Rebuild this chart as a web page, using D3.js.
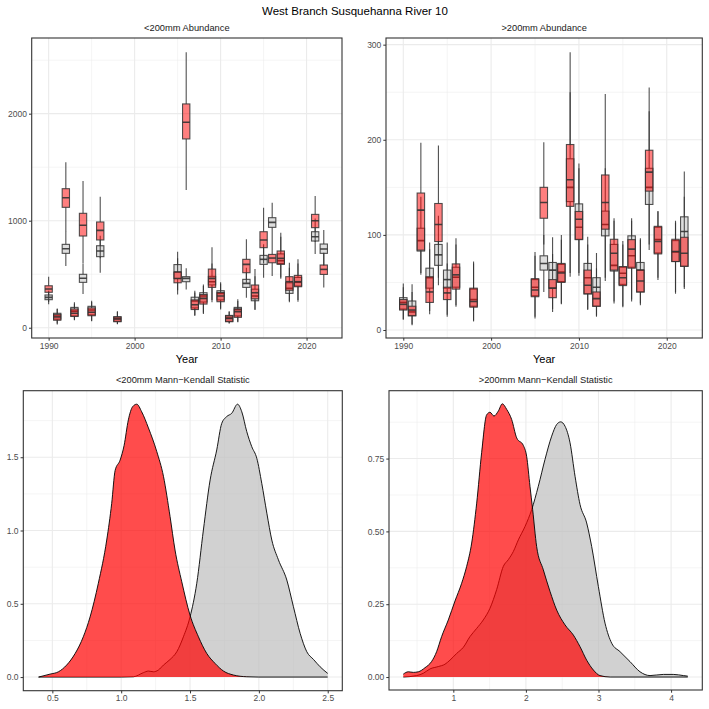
<!DOCTYPE html>
<html><head><meta charset="utf-8">
<script src="https://cdn.jsdelivr.net/npm/d3@7"></script>
<style>body{margin:0;background:#fff}svg{display:block;font-family:"Liberation Sans",Arial,Helvetica,sans-serif}</style>
</head><body><svg id="c" width="709" height="709"></svg>
<script>
// ---------- DATA ----------
const years = [1990,1991,1992,1993,1994,1995,1996,1998,2005,2006,2007,2008,2009,2010,2011,2012,2013,2014,2015,2016,2017,2018,2019,2021,2022];
// [lower whisker, q1, median, q3, upper whisker]
const smallRed = [[240,331,362,392,477],[30,70,100,125,175],[897,1125,1215,1299,1546],[70,105,135,175,225],[602,857,957,1069,1371],[60,112,144,185,240],[650,820,910,988,1224],[32,56,81,100,150],[310,420,460,520,650],[1287,1764,1920,2091,2574],[110,170,215,260,330],[128,221,274,310,390],[237,377,461,548,751],[171,243,296,330,410],[40,56,87,110,150],[50,97,150,175,250],[420,514,592,639,826],[165,270,327,399,548],[600,748,819,897,1121],[483,607,651,685,800],[458,592,648,717,888],[250,350,430,477,607],[243,383,430,489,639],[800,935,1000,1059,1231],[377,498,545,586,700]];
const smallGray = [[219,262,284,306,345],[40,80,110,135,180],[577,695,738,779,900],[75,110,155,190,237],[315,424,462,499,600],[65,120,165,200,252],[514,664,717,766,860],[35,60,85,103,153],[350,460,520,590,710],[358,430,461,477,555],[120,185,250,285,346],[140,240,296,327,405],[260,400,430,480,600],[180,260,321,346,424],[42,60,90,115,153],[55,110,171,190,265],[280,377,414,452,560],[170,252,296,360,480],[467,592,639,676,780],[800,938,984,1028,1168],[470,600,626,690,850],[237,321,368,420,560],[260,390,425,470,600],[688,810,850,897,1020],[580,695,735,782,913]];
const largeRed = [[11,21,27,32,45],[5,15,21,25,40],[60,84,126,144,197],[16.5,29,40,56,85],[55,93,111,133,194],[14,32,39,45,70],[24.5,43,58,69.5,96.5],[9,24,30,44,72],[12,35,42,54,82],[90,117.5,134,150,197.5],[19,34,44,53,80],[27,50,60,70,100],[56,130,158,195,292],[57,95,116.5,124.6,175],[21,38,47,63,90],[14,25,33,40,65],[51.6,106,134,163,248],[28,63,80.7,95.4,117.5],[24,46.7,55,66.7,93.7],[30,65,85,95,117.5],[26,40,51.6,63,96.5],[90,146,166,189,255],[52.6,80,93,109,124.6],[38,72,82.5,95.4,115],[43,67,80.7,97.5,140]];
const largeGray = [[11,22,29,34,49],[6,15,19,30.5,48],[58,83,94,107,140],[20,44,55,65,92],[47,68,79,90,120],[16,44,53,63,92],[26,45,55.5,66,90],[10,25,32,43,70],[14,36,45,53,78],[40,63,70,78,100],[22,44,63,71,97.5],[28,51,61,69,95],[60,135,150,180,250],[60,95.4,108,132.6,170],[22,38,55,70,98],[15,25,45,55,81],[55,99,111,125,170],[30,62,68,90,115],[25,48,59.6,66,90],[32,66,78,99,115],[28,40,63,71,95],[84,132,150,170,230],[55,81,95,108,125],[40,72,82,94,113],[45,67,103.5,119,166.7]];

// density curves [x, density]
const mkSmallRed = [[0.4,0],[0.483,0.02],[0.544,0.036],[0.604,0.082],[0.665,0.16],[0.725,0.275],[0.774,0.41],[0.834,0.64],[0.895,0.935],[0.931,1.185],[0.956,1.41],[0.992,1.48],[1.021,1.58],[1.052,1.755],[1.084,1.846],[1.113,1.862],[1.149,1.81],[1.198,1.70],[1.258,1.54],[1.307,1.37],[1.355,1.095],[1.391,0.867],[1.44,0.65],[1.50,0.423],[1.561,0.275],[1.621,0.162],[1.682,0.093],[1.743,0.041],[1.815,0.014],[1.912,0.002],[2.0,0],[2.5,0]];
const mkSmallGray = [[0.4,0],[1.0,0],[1.089,0.002],[1.161,0.03],[1.198,0.041],[1.234,0.036],[1.27,0.048],[1.307,0.082],[1.355,0.12],[1.404,0.173],[1.452,0.275],[1.50,0.41],[1.549,0.64],[1.597,1.003],[1.646,1.345],[1.694,1.55],[1.73,1.73],[1.767,1.778],[1.803,1.80],[1.845,1.862],[1.876,1.81],[1.912,1.675],[1.948,1.573],[1.985,1.493],[2.021,1.322],[2.058,1.118],[2.094,0.935],[2.142,0.80],[2.203,0.662],[2.251,0.48],[2.30,0.298],[2.348,0.173],[2.397,0.12],[2.445,0.07],[2.5,0.025]];
const mkLargeRed = [[0.311,0.01],[0.38,0.018],[0.449,0.016],[0.518,0.018],[0.61,0.032],[0.70,0.053],[0.77,0.087],[0.839,0.139],[0.931,0.196],[1.023,0.261],[1.115,0.322],[1.184,0.38],[1.253,0.46],[1.322,0.597],[1.39,0.77],[1.459,0.90],[1.505,0.909],[1.56,0.896],[1.62,0.913],[1.675,0.938],[1.735,0.919],[1.804,0.884],[1.873,0.821],[1.965,0.795],[2.01,0.758],[2.056,0.655],[2.093,0.575],[2.148,0.448],[2.24,0.368],[2.332,0.294],[2.424,0.23],[2.539,0.179],[2.654,0.144],[2.746,0.104],[2.837,0.058],[2.93,0.024],[3.02,0.005],[3.16,0],[4.23,0]];
const mkLargeGray = [[0.311,0],[0.495,0.005],[0.587,0.013],[0.68,0.028],[0.793,0.036],[0.885,0.044],[0.954,0.058],[1.046,0.081],[1.138,0.102],[1.23,0.139],[1.322,0.167],[1.413,0.196],[1.505,0.236],[1.597,0.30],[1.689,0.38],[1.758,0.403],[1.827,0.431],[1.896,0.471],[1.988,0.517],[2.08,0.575],[2.171,0.655],[2.263,0.747],[2.355,0.827],[2.424,0.867],[2.479,0.876],[2.539,0.861],[2.608,0.804],[2.677,0.689],[2.746,0.592],[2.837,0.529],[2.906,0.448],[2.998,0.311],[3.09,0.185],[3.182,0.116],[3.297,0.087],[3.434,0.053],[3.572,0.018],[3.71,0.005],[3.894,0.009],[4.03,0.009],[4.17,0.005],[4.23,0.003]];

const yearTicks = [1990,2000,2010,2020];
const smallAbTicks = [0,1000,2000];
const largeAbTicks = [0,100,200,300];
const mkSmallXTicks = [0.5,1.0,1.5,2.0,2.5];
const mkSmallYTicks = [0.0,0.5,1.0,1.5];
const mkLargeXTicks = [1,2,3,4];
const mkLargeYTicks = [0.00,0.25,0.50,0.75];

const titles = {main:"West Branch Susquehanna River 10", a:"<200mm Abundance", b:">200mm Abundance", c:"<200mm Mann\u2212Kendall Statistic", d:">200mm Mann\u2212Kendall Statistic", xlab:"Year"};

// ---------- DRAW ----------
const svg = d3.select("#c");
const GRID = "#EBEBEB", BORDER = "#333333", TXT = "#4D4D4D";

svg.append("text").attr("x",355).attr("y",15).attr("text-anchor","middle")
  .attr("font-size",11.5).attr("fill","#000").text(titles.main);

function panel(o){
  const g = svg.append("g");
  const x = d3.scaleLinear().domain(o.xd).range([o.l,o.r]);
  const y = d3.scaleLinear().domain(o.yd).range([o.b,o.t]);
  // minor grids
  const mids = t => { const m=[]; for(let i=0;i<t.length-1;i++) m.push((t[i]+t[i+1])/2); const s=t[1]-t[0]; m.unshift(t[0]-s/2); m.push(t[t.length-1]+s/2); return m; };
  mids(o.xt).filter(v=>x(v)>o.l&&x(v)<o.r).forEach(v=>g.append("line").attr("x1",x(v)).attr("x2",x(v)).attr("y1",o.t).attr("y2",o.b).attr("stroke",GRID).attr("stroke-width",0.55));
  mids(o.yt).filter(v=>y(v)<o.b&&y(v)>o.t).forEach(v=>g.append("line").attr("y1",y(v)).attr("y2",y(v)).attr("x1",o.l).attr("x2",o.r).attr("stroke",GRID).attr("stroke-width",0.55));
  o.xt.forEach(v=>g.append("line").attr("x1",x(v)).attr("x2",x(v)).attr("y1",o.t).attr("y2",o.b).attr("stroke",GRID).attr("stroke-width",1.1));
  o.yt.forEach(v=>g.append("line").attr("y1",y(v)).attr("y2",y(v)).attr("x1",o.l).attr("x2",o.r).attr("stroke",GRID).attr("stroke-width",1.1));
  // axes
  const ax = d3.axisBottom(x).tickValues(o.xt).tickSize(2.7).tickPadding(2).tickFormat(o.xf);
  const ay = d3.axisLeft(y).tickValues(o.yt).tickSize(2.7).tickPadding(2).tickFormat(o.yf);
  const gx = svg.append("g").attr("transform",`translate(0,${o.b})`).call(ax);
  const gy = svg.append("g").attr("transform",`translate(${o.l},0)`).call(ay);
  [gx,gy].forEach(a=>{a.select(".domain").remove(); a.selectAll("line").attr("stroke",BORDER).attr("stroke-width",1);
    a.selectAll("text").attr("fill",TXT).attr("font-size",8.5).attr("font-family","Liberation Sans, Arial, sans-serif");});
  gx.selectAll("text").attr("dy","0.71em");
  // title
  svg.append("text").attr("x",(o.l+o.r)/2).attr("y",o.t-7.5).attr("text-anchor","middle").attr("font-size",9.3).attr("fill","#1A1A1A").text(o.title);
  if(o.xlab) svg.append("text").attr("x",(o.l+o.r)/2).attr("y",o.b+25).attr("text-anchor","middle").attr("font-size",11).attr("fill","#000").text(o.xlab);
  const clip = "clip"+Math.round(o.l)+Math.round(o.t);
  svg.append("clipPath").attr("id",clip).append("rect").attr("x",o.l).attr("y",o.t).attr("width",o.r-o.l).attr("height",o.b-o.t);
  const dg = svg.append("g").attr("clip-path",`url(#${clip})`);
  return {x,y,dg,border:()=>svg.append("rect").attr("x",o.l).attr("y",o.t).attr("width",o.r-o.l).attr("height",o.b-o.t).attr("fill","none").attr("stroke",BORDER).attr("stroke-width",1.1)};
}

function boxes(p, series, fill){
  const w = 0.85;
  const g = p.dg.append("g");
  series.forEach((s,i)=>{
    if(!s) return;
    const yr = years[i], cx = p.x(yr);
    const [lo,q1,md,q3,hi] = s;
    g.append("line").attr("x1",cx).attr("x2",cx).attr("y1",p.y(q3)).attr("y2",p.y(hi)).attr("stroke","#333").attr("stroke-opacity",0.85).attr("stroke-width",1.1);
    g.append("line").attr("x1",cx).attr("x2",cx).attr("y1",p.y(q1)).attr("y2",p.y(lo)).attr("stroke","#333").attr("stroke-opacity",0.85).attr("stroke-width",1.1);
    const x0 = p.x(yr-w/2), x1 = p.x(yr+w/2);
    g.append("rect").attr("x",x0).attr("width",x1-x0).attr("y",p.y(q3)).attr("height",p.y(q1)-p.y(q3))
      .attr("fill",fill).attr("fill-opacity",0.5).attr("stroke","#333").attr("stroke-opacity",0.85).attr("stroke-width",1.1);
    g.append("line").attr("x1",x0).attr("x2",x1).attr("y1",p.y(md)).attr("y2",p.y(md)).attr("stroke","#333").attr("stroke-opacity",0.9).attr("stroke-width",1.6);
  });
}

function dens(p, pts, fill){
  const area = d3.area().x(d=>p.x(d[0])).y0(p.y(0)).y1(d=>p.y(d[1])).curve(d3.curveMonotoneX);
  const line = d3.line().x(d=>p.x(d[0])).y(d=>p.y(d[1])).curve(d3.curveMonotoneX);
  p.dg.append("path").attr("d",area(pts)).attr("fill",fill).attr("fill-opacity",0.7);
  p.dg.append("path").attr("d",line(pts)).attr("fill","none").attr("stroke","#000").attr("stroke-width",0.9);
}

const fmt0 = d3.format("d");
const pA = panel({l:31.7,r:342,t:38,b:338,xd:[1988.03,2024.12],yd:[-96,2707],xt:yearTicks,yt:smallAbTicks,xf:fmt0,yf:fmt0,title:titles.a,xlab:titles.xlab});
boxes(pA, smallGray, "#BEBEBE"); boxes(pA, smallRed, "#FF0000"); pA.border();

const pB = panel({l:386,r:702.3,t:38,b:338,xd:[1988.03,2024.05],yd:[-8.4,307],xt:yearTicks,yt:largeAbTicks,xf:fmt0,yf:fmt0,title:titles.b,xlab:titles.xlab});
boxes(pB, largeGray, "#BEBEBE"); boxes(pB, largeRed, "#FF0000"); pB.border();

const pC = panel({l:23.3,r:342.3,t:390.7,b:690.7,xd:[0.289,2.606],yd:[-0.093,1.954],xt:mkSmallXTicks,yt:mkSmallYTicks,xf:d3.format(".1f"),yf:d3.format(".1f"),title:titles.c});
dens(pC, mkSmallGray, "#BEBEBE"); dens(pC, mkSmallRed, "#FF0000"); pC.border();

const pD = panel({l:389,r:702.3,t:390.7,b:690,xd:[0.114,4.43],yd:[-0.0445,0.983],xt:mkLargeXTicks,yt:mkLargeYTicks,xf:d3.format("d"),yf:d3.format(".2f"),title:titles.d});
dens(pD, mkLargeGray, "#BEBEBE"); dens(pD, mkLargeRed, "#FF0000"); pD.border();
</script></body></html>
